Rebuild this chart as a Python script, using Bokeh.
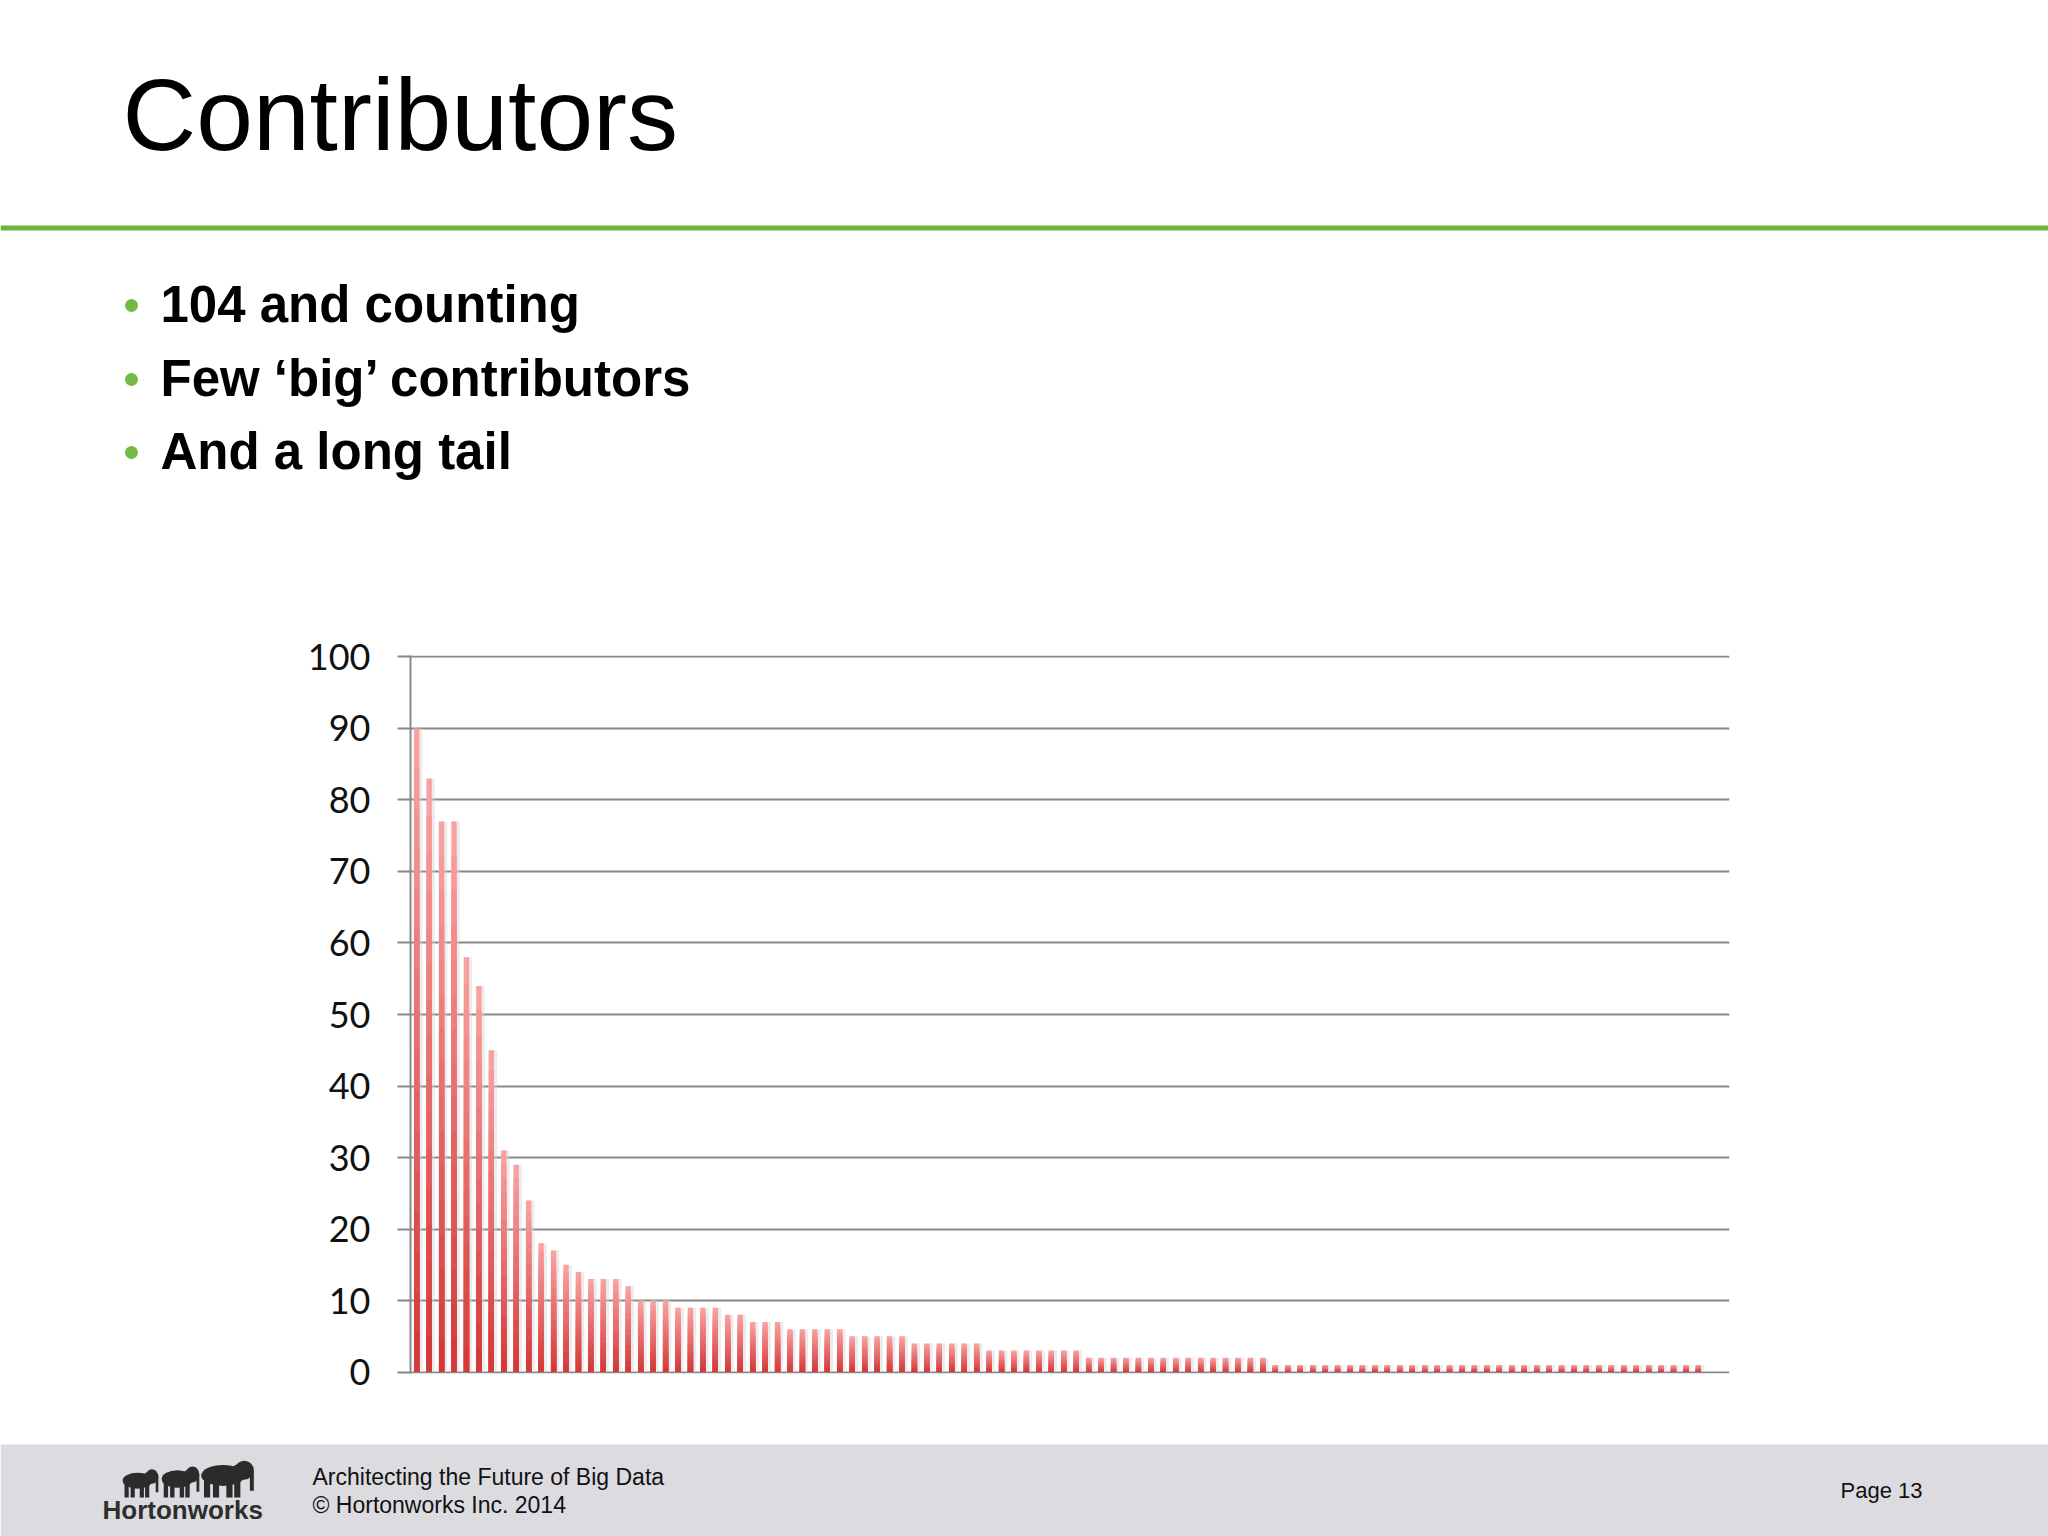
import numpy as np
from bokeh.plotting import figure
from bokeh.models import Range1d, FixedTicker, ColumnDataSource
from bokeh.layouts import column
from bokeh.core.properties import value
from bokeh.embed import file_html
from bokeh.resources import INLINE

# ---------------- data ----------------
contributor_rank = list(range(1, 105))
commits = [90, 83, 77, 77, 58, 54, 45, 31, 29, 24,
           18, 17, 15, 14, 13, 13, 13, 12,
           10, 10, 10, 9, 9, 9, 9, 8, 8, 7, 7, 7,
           6, 6, 6, 6, 6, 5, 5, 5, 5, 5,
           4, 4, 4, 4, 4, 4,
           3, 3, 3, 3, 3, 3, 3, 3] + [2] * 15 + [1] * 35
y_ticks = [0, 10, 20, 30, 40, 50, 60, 70, 80, 90, 100]
x_slots = 106  # category slots on the axis (two trailing empty)

title_text = "Contributors"
bullets = ["104 and counting", "Few \u2018big\u2019 contributors", "And a long tail"]
footer_lines = ["Architecting the Future of Big Data", "\u00a9 Hortonworks Inc. 2014"]
page_text = "Page 13"
logo_text = "Hortonworks"

GREEN = "#6cb53a"
W = 2048


def blank(fig):
    fig.outline_line_color = None
    fig.grid.visible = False
    fig.background_fill_color = "white"
    fig.border_fill_color = "white"


# ---------------- header figure (page y 0..620) ----------------
fa = figure(width=W, height=620, x_range=Range1d(0, W), y_range=Range1d(620, 0),
            x_axis_type=None, y_axis_type=None, min_border=0, frame_align=False,
            output_backend="svg", toolbar_location=None)
blank(fa)

fa.text(x=[122], y=[114], text=[title_text], text_font=value("Liberation Sans"),
        text_font_size="102px", text_color="#000000",
        text_baseline="alphabetic", text_align="left")
fa.quad(left=[0], right=[W], top=[225], bottom=[230], fill_color=GREEN, line_color=None)

text_y = [304, 378, 451]
fa.scatter(x=[131] * 3, y=[305, 379, 452], size=13, marker="circle",
           fill_color="#74b943", line_color=None)
fa.text(x=[160] * 3, y=text_y, text=bullets, text_font=value("Liberation Sans"),
        text_font_size="51px", text_font_style="bold", text_color="#000000",
        text_baseline="alphabetic", text_align="left")

# ---------------- chart figure (page y 620..1440) ----------------
fb = figure(width=W, height=820, x_range=Range1d(0.5, x_slots + 0.5),
            y_range=Range1d(-0.2, 100.2), frame_align=False,
            min_border_left=410, min_border_right=W - 1729, min_border_top=35, min_border_bottom=67,
            output_backend="svg", toolbar_location=None)
fb.outline_line_color = None
fb.background_fill_color = "white"
fb.border_fill_color = "white"
fb.xaxis.visible = False
fb.xgrid.visible = False
fb.ygrid.grid_line_color = "#888888"
fb.ygrid.grid_line_width = 2
fb.yaxis.ticker = FixedTicker(ticks=y_ticks)
fb.yaxis.minor_tick_line_color = None
fb.yaxis.axis_line_color = "#888888"
fb.yaxis.axis_line_width = 2
fb.yaxis.major_tick_line_color = "#888888"
fb.yaxis.major_tick_line_width = 2
fb.yaxis.major_tick_in = 0
fb.yaxis.major_tick_out = 13
fb.yaxis.major_label_standoff = 27
fb.yaxis.major_label_text_font = "Lato"
fb.yaxis.major_label_text_font_size = "36px"
fb.yaxis.major_label_text_color = "#111111"

x = np.array(contributor_rank, dtype=float)
v = np.array(commits, dtype=float)

# soft shadow
fb.vbar(x=x + 0.1, top=v, bottom=0, width=0.72, fill_color="#d4d4d8", fill_alpha=0.45,
        line_color=None)

# gradient bars: nested bars, light top to red bottom
top_rgb = np.array([0xfb, 0xa4, 0xa4])
bot_rgb = np.array([0xd3, 0x37, 0x38])
N = 16
xs, tops, cols = [], [], []
for k in range(N):
    frac = (N - k) / N
    pos = (N - k - 0.5) / N
    c = (bot_rgb + (top_rgb - bot_rgb) * pos).astype(int)
    col = "#%02x%02x%02x" % tuple(c)
    xs.append(x)
    tops.append(v * frac)
    cols += [col] * len(x)
src = ColumnDataSource(dict(x=np.concatenate(xs), top=np.concatenate(tops), color=cols))
fb.vbar(x="x", top="top", bottom=0, width=0.42, fill_color="color", line_color=None, source=src)

# ---------------- footer figure (page y 1440..1536) ----------------
fc = figure(width=W, height=96, x_range=Range1d(0, W), y_range=Range1d(1536, 1440),
            x_axis_type=None, y_axis_type=None, min_border=0, frame_align=False,
            output_backend="svg", toolbar_location=None)
blank(fc)
fc.quad(left=[0], right=[W], top=[1444], bottom=[1536], fill_color="#dcdce0", line_color=None)

fc.text(x=[312, 312], y=[1476, 1504], text=footer_lines, text_font=value("Liberation Sans"),
        text_font_size="23px", text_color="#111111", text_baseline="alphabetic", text_align="left")
fc.text(x=[1840], y=[1490], text=[page_text], text_font=value("Liberation Sans"),
        text_font_size="22px", text_color="#111111", text_baseline="alphabetic", text_align="left")
fc.text(x=[102], y=[1509], text=[logo_text], text_font=value("Liberation Sans"),
        text_font_size="26px", text_font_style="bold", text_color="#2e2e2e",
        text_baseline="alphabetic", text_align="left")

# elephants (logo decoration): left x, width, height, feet y
ele_left = [121, 160, 199]
ele_w = [38, 40, 56]
ele_h = [29, 32, 38]
ele_feet = 1497
ELE = "#2b2b2b"
for x0, w, h in zip(ele_left, ele_w, ele_h):
    yb = ele_feet
    fc.ellipse(x=[x0 + 0.42 * w], y=[yb - 0.58 * h], width=0.78 * w, height=0.55 * h,
               fill_color=ELE, line_color=None)
    fc.ellipse(x=[x0 + 0.80 * w], y=[yb - 0.72 * h], width=0.34 * w, height=0.5 * h,
               fill_color=ELE, line_color=None)
    fc.ellipse(x=[x0 + 0.68 * w], y=[yb - 0.66 * h], width=0.22 * w, height=0.42 * h,
               fill_color=ELE, line_color=None)
    lx = [x0 + 0.08 * w, x0 + 0.24 * w, x0 + 0.48 * w, x0 + 0.62 * w]
    fc.quad(left=lx, right=[a + 0.11 * w for a in lx], top=[yb - 0.45 * h] * 4,
            bottom=[yb] * 4, fill_color=ELE, line_color=None)
    fc.quad(left=[x0 + 0.9 * w], right=[x0 + 0.97 * w], top=[yb - 0.72 * h],
            bottom=[yb - 0.18 * h], fill_color=ELE, line_color=None)

layout = column(fa, fb, fc, spacing=0)
open("out.html", "w").write(file_html(layout, INLINE))
